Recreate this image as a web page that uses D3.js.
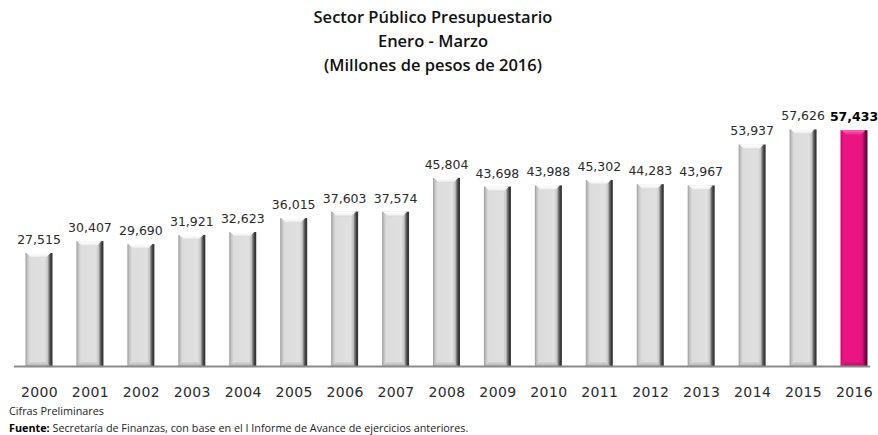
<!DOCTYPE html>
<html>
<head>
<meta charset="utf-8">
<script src="https://cdn.jsdelivr.net/npm/d3@7/dist/d3.min.js"></script>
<style>
  html, body { margin: 0; padding: 0; background: #fff; }
  svg { display: block; }
</style>
</head>
<body>
<svg id="chart" width="878" height="435"></svg>
<script>
// Ingresos del Sector Público Presupuestario, enero-marzo (millones de pesos de 2016)
const years = ["2000","2001","2002","2003","2004","2005","2006","2007","2008",
               "2009","2010","2011","2012","2013","2014","2015","2016"];
const values = [27515, 30407, 29690, 31921, 32623, 36015, 37603, 37574, 45804,
                43698, 43988, 45302, 44283, 43967, 53937, 57626, 57433];
const highlightYear = "2016";
const titleLines = ["Sector Público Presupuestario", "Enero - Marzo", "(Millones de pesos de 2016)"];
const noteText = "Cifras Preliminares";
const sourceLabel = "Fuente:";
const sourceText = " Secretaría de Finanzas, con base en el I Informe de Avance de ejercicios anteriores.";

const svg = d3.select("#chart");
const baseY = 366;
const barW = 27;

const x = d3.scalePoint().domain(years).range([39, 854]);
const y = d3.scaleLinear().domain([0, 60000]).range([baseY, 119.6]);

const defs = svg.append("defs");
function hGrad(id, stops) {
  const g = defs.append("linearGradient").attr("id", id)
    .attr("x1", "0%").attr("x2", "100%").attr("y1", "0%").attr("y2", "0%");
  stops.forEach(s => g.append("stop").attr("offset", s[0]).attr("stop-color", s[1]));
}
function vGrad(id, stops) {
  const g = defs.append("linearGradient").attr("id", id)
    .attr("x1", "0%").attr("x2", "0%").attr("y1", "0%").attr("y2", "100%");
  stops.forEach(s => g.append("stop").attr("offset", s[0]).attr("stop-color", s[1]));
}
hGrad("grayBody", [["0%","#9a9a9a"],["7%","#c2c2c2"],["16%","#dcdcdc"],["72%","#e0e0e0"],
                   ["82%","#c4c4c4"],["88%","#727272"],["94%","#3c3c3c"],["100%","#303030"]]);
hGrad("pinkBody", [["0%","#c20c68"],["7%","#dc137a"],["16%","#ea1583"],["72%","#ea1583"],
                   ["82%","#d21378"],["88%","#9c0c57"],["94%","#6a073a"],["100%","#5a0531"]]);
vGrad("grayCap", [["0%","#ffffff"],["60%","#f3f3f3"],["100%","#d6d6d6"]]);
vGrad("pinkCap", [["0%","#ff6fb6"],["60%","#f43c99"],["100%","#e3157f"]]);
vGrad("grayFoot", [["0%","#d0d0d0"],["100%","#a6a6a6"]]);
vGrad("pinkFoot", [["0%","#d6127a"],["100%","#a80b5c"]]);

// Títulos
const titleY = [23, 47, 71];
svg.append("g").selectAll("text").data(titleLines).join("text")
  .attr("x", 433).attr("y", (d, i) => titleY[i])
  .attr("text-anchor", "middle")
  .attr("font-family", "'Open Sans', sans-serif")
  .attr("font-weight", 600)
  .attr("font-size", 16.5)
  .attr("fill", "#111")
  .text(d => d);

// Barras
const data = years.map((yr, i) => ({ year: yr, value: values[i] }));
const bars = svg.append("g").selectAll("g").data(data).join("g")
  .attr("transform", d => `translate(${x(d.year) - barW / 2},0)`);

bars.append("rect")
  .attr("x", 0).attr("y", d => y(d.value))
  .attr("width", barW).attr("height", d => baseY - y(d.value))
  .attr("fill", d => d.year === highlightYear ? "url(#pinkBody)" : "url(#grayBody)");

// bisel superior
bars.append("path")
  .attr("d", d => {
    const t = y(d.value), c = 5;
    return `M1,${t} L${barW - 2},${t} L${barW - 2 - c},${t + c} L${1 + c},${t + c} Z`;
  })
  .attr("fill", d => d.year === highlightYear ? "url(#pinkCap)" : "url(#grayCap)");

// bisel inferior
bars.append("path")
  .attr("d", () => {
    const b = baseY, c = 4;
    return `M${1 + c},${b - c} L${barW - 3 - c},${b - c} L${barW - 3},${b} L1,${b} Z`;
  })
  .attr("fill", d => d.year === highlightYear ? "url(#pinkFoot)" : "url(#grayFoot)")
  .attr("opacity", 0.7);

// Línea base
svg.append("line")
  .attr("x1", 14).attr("x2", 870)
  .attr("y1", baseY + 0.5).attr("y2", baseY + 0.5)
  .attr("stroke", "#8a8a8a").attr("stroke-width", 2);

// Etiquetas de valor
const fmt = d3.format(",");
svg.append("g").selectAll("text").data(data).join("text")
  .attr("x", d => x(d.year))
  .attr("y", d => y(d.value) - 9)
  .attr("text-anchor", "middle")
  .attr("font-family", "'DejaVu Sans', sans-serif")
  .attr("font-size", 12.5)
  .attr("font-weight", d => d.year === highlightYear ? "bold" : "normal")
  .attr("fill", d => d.year === highlightYear ? "#000" : "#2a2a2a")
  .text(d => fmt(d.value));

// Eje de años
const xAxis = d3.axisBottom(x).tickSize(0).tickPadding(0);
const gx = svg.append("g").attr("transform", `translate(0,${baseY})`).call(xAxis);
gx.select(".domain").remove();
gx.selectAll("text")
  .attr("y", 31)
  .attr("dy", null)
  .attr("font-family", "'DejaVu Sans', sans-serif")
  .attr("font-size", 14)
  .attr("letter-spacing", 0.4)
  .attr("fill", "#2a2a2a");

// Notas
svg.append("text")
  .attr("x", 9).attr("y", 415)
  .attr("font-family", "'Open Sans', sans-serif")
  .attr("font-size", 10.8)
  .attr("fill", "#222")
  .text(noteText);

const src = svg.append("text")
  .attr("x", 9).attr("y", 432)
  .attr("font-family", "'Open Sans', sans-serif")
  .attr("font-size", 10.8)
  .attr("fill", "#222");
src.append("tspan").attr("font-weight", "bold").attr("fill", "#000").text(sourceLabel);
src.append("tspan").text(sourceText);
</script>
</body>
</html>
